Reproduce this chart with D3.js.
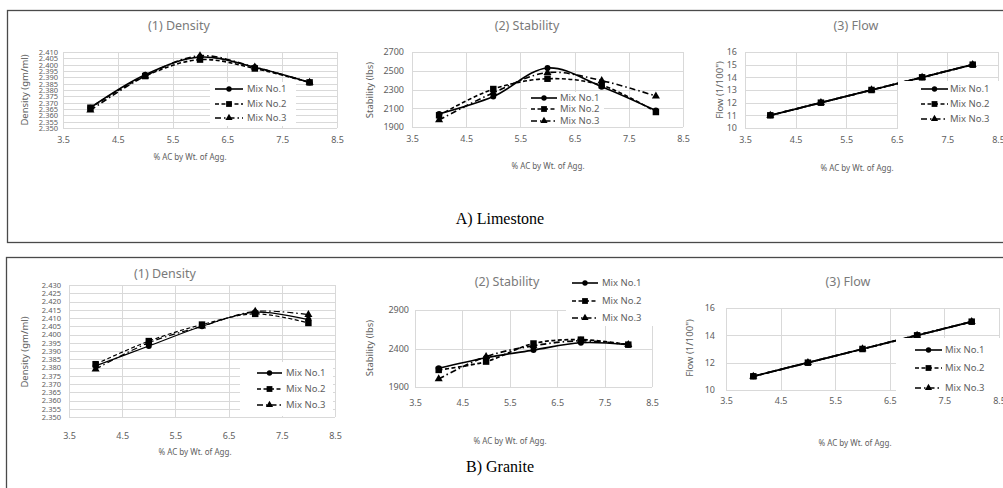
<!DOCTYPE html>
<html><head><meta charset="utf-8">
<script src="https://cdn.jsdelivr.net/npm/d3@7"></script>
<style>
html,body{margin:0;padding:0;background:#fff;}
svg{display:block;font-family:"Noto Sans","Open Sans",sans-serif;}
</style></head>
<body>
<svg id="c" width="1003" height="488"></svg>
<script>
// ---------- DATA ----------
const acContent = [4, 5, 6, 7, 8];
const xTicks = [3.5, 4.5, 5.5, 6.5, 7.5, 8.5];
const mixNames = ["Mix No.1", "Mix No.2", "Mix No.3"];

const limeDensityMix1 = [2.366, 2.392, 2.406, 2.398, 2.386];
const limeDensityMix2 = [2.366, 2.391, 2.404, 2.397, 2.386];
const limeDensityMix3 = [2.364, 2.391, 2.407, 2.398, 2.386];
const limeDensityTicks = [2.350,2.355,2.360,2.365,2.370,2.375,2.380,2.385,2.390,2.395,2.400,2.405,2.410];

const limeStabilityMix1 = [2040, 2225, 2530, 2330, 2075];
const limeStabilityMix2 = [2025, 2305, 2415, 2345, 2060];
const limeStabilityMix3 = [1975, 2265, 2480, 2395, 2230];
const limeStabilityTicks = [1900, 2100, 2300, 2500, 2700];

const limeFlowMix1 = [11, 12, 13, 14, 15];
const limeFlowMix2 = [11, 12, 13, 14, 15];
const limeFlowMix3 = [11, 12, 13, 14, 15];
const limeFlowTicks = [10, 11, 12, 13, 14, 15, 16];

const graniteDensityMix1 = [2.381, 2.393, 2.405, 2.4135, 2.409];
const graniteDensityMix2 = [2.382, 2.396, 2.406, 2.4125, 2.407];
const graniteDensityMix3 = [2.379, 2.395, 2.405, 2.414, 2.412];
const graniteDensityTicks = [2.350,2.355,2.360,2.365,2.370,2.375,2.380,2.385,2.390,2.395,2.400,2.405,2.410,2.415,2.420,2.425,2.430];

const graniteStabilityMix1 = [2144, 2280, 2380, 2475, 2450];
const graniteStabilityMix2 = [2122, 2230, 2465, 2515, 2450];
const graniteStabilityMix3 = [2005, 2295, 2435, 2500, 2450];
const graniteStabilityTicks = [1900, 2400, 2900];

const graniteFlowMix1 = [11, 12, 13, 14, 15];
const graniteFlowMix2 = [11, 12, 13, 14, 15];
const graniteFlowMix3 = [11, 12, 13, 14, 15];
const graniteFlowTicks = [10, 12, 14, 16];

// ---------- DRAW ----------
const svg = d3.select("#c");
const GRID = "#d9d9d9", TXT = "#606060", TITLE = "#7a7a7a";
const dashes = [null, "4,2.5", "6,3,1.5,3"];
const markers = [d3.symbolCircle, d3.symbolSquare, d3.symbolTriangle];

// panel frames
svg.append("rect").attr("x", 7.5).attr("y", 10.5).attr("width", 1010).attr("height", 232)
  .attr("fill", "none").attr("stroke", "#4a4a4a").attr("stroke-width", 1.3);
svg.append("rect").attr("x", 6.5).attr("y", 257.5).attr("width", 1010).attr("height", 240)
  .attr("fill", "none").attr("stroke", "#4a4a4a").attr("stroke-width", 1.3);

function drawChart(c) {
  const g = svg.append("g");
  const x = d3.scaleLinear().domain([3.5, 8.5]).range([c.px0, c.px1]);
  const y = d3.scaleLinear().domain([c.ticks[0], c.ticks[c.ticks.length - 1]]).range([c.py1, c.py0]);

  // gridlines
  g.selectAll(null).data(c.ticks).join("line")
    .attr("x1", x(3.5)).attr("x2", x(8.5))
    .attr("y1", d => Math.round(y(d)) + 0.5).attr("y2", d => Math.round(y(d)) + 0.5)
    .attr("stroke", GRID).attr("stroke-width", 1);
  g.selectAll(null).data(xTicks).join("line")
    .attr("x1", d => Math.round(x(d)) + 0.5).attr("x2", d => Math.round(x(d)) + 0.5)
    .attr("y1", y(c.ticks[0])).attr("y2", y(c.ticks[c.ticks.length - 1]))
    .attr("stroke", GRID).attr("stroke-width", 1);

  // axes (labels only)
  const ya = g.append("g").attr("transform", `translate(${c.px0},0)`)
    .call(d3.axisLeft(y).tickValues(c.ticks).tickSize(0).tickPadding(c.yPad).tickFormat(c.fmt));
  ya.select(".domain").remove();
  ya.selectAll("text").attr("fill", TXT).style("font-size", c.yFont + "px").style("font-family", "Noto Sans");
  const xa = g.append("g").attr("transform", `translate(0,${c.py1})`)
    .call(d3.axisBottom(x).tickValues(xTicks).tickSize(0).tickPadding(c.xPad).tickFormat(d3.format(".1f")));
  xa.select(".domain").remove();
  xa.selectAll("text").attr("fill", TXT).style("font-size", "9px").style("font-family", "Noto Sans");

  // series
  const line = d3.line().x(d => x(d[0])).y(d => y(d[1])).curve(d3.curveCatmullRom.alpha(0.5));
  c.series.forEach((vals, i) => {
    const pts = acContent.map((a, k) => [a, vals[k]]);
    g.append("path").datum(pts).attr("d", line)
      .attr("fill", "none").attr("stroke", "#000").attr("stroke-width", c.lw)
      .attr("stroke-dasharray", dashes[i]);
    g.selectAll(null).data(pts).join("path")
      .attr("transform", d => `translate(${x(d[0])},${y(d[1])})`)
      .attr("d", d3.symbol().type(markers[i]).size(c.ms[i]))
      .attr("fill", "#000");
  });

  // legend
  const L = c.legend;
  g.append("rect").attr("x", L.box[0]).attr("y", L.box[1])
    .attr("width", L.box[2] - L.box[0]).attr("height", L.box[3] - L.box[1]).attr("fill", "#fff");
  mixNames.forEach((name, i) => {
    const ry = L.rows[i];
    g.append("line").attr("x1", L.l0).attr("x2", L.l1).attr("y1", ry).attr("y2", ry)
      .attr("stroke", "#000").attr("stroke-width", 1.6).attr("stroke-dasharray", dashes[i]);
    g.append("path").attr("transform", `translate(${(L.l0 + L.l1) / 2},${ry})`)
      .attr("d", d3.symbol().type(markers[i]).size(c.ms[i] * 0.8)).attr("fill", "#000");
    g.append("text").attr("x", L.tx).attr("y", ry).attr("dy", "0.35em")
      .attr("fill", TXT).style("font-size", "9.5px").text(name);
  });

  // titles
  g.append("text").attr("x", c.title[0]).attr("y", c.title[1]).attr("text-anchor", "middle")
    .attr("dy", "0.35em").attr("fill", TITLE).style("font-size", "12.5px").text(c.title[2]);
  g.append("text").attr("transform", `translate(${c.ylab[0]},${c.ylab[1]}) rotate(-90)`)
    .attr("text-anchor", "middle").attr("dy", "0.35em").attr("fill", TXT)
    .style("font-size", "9.5px").text(c.ylab[2]);
  g.append("text").attr("x", c.xlab[0]).attr("y", c.xlab[1]).attr("text-anchor", "middle")
    .attr("dy", "0.35em").attr("fill", TXT).style("font-size", "8px").text("% AC by Wt. of Agg.");
}

const f3 = d3.format(".3f"), f0 = d3.format("d");

// Limestone
drawChart({ px0: 63, px1: 337, py0: 52, py1: 128, ticks: limeDensityTicks, fmt: f3, yPad: 5, yFont: 7.5, xPad: 9,
  series: [limeDensityMix1, limeDensityMix2, limeDensityMix3], lw: 1.6, ms: [28, 42, 28],
  legend: { box: [210, 82, 296, 126], rows: [89, 104, 118], l0: 215, l1: 243, tx: 247 },
  title: [179, 26, "(1) Density"], ylab: [25, 90, "Density (gm/ml)"], xlab: [190, 157] });

drawChart({ px0: 412, px1: 683, py0: 52, py1: 127, ticks: limeStabilityTicks, fmt: f0, yPad: 8, yFont: 9, xPad: 9,
  series: [limeStabilityMix1, limeStabilityMix2, limeStabilityMix3], lw: 1.6, ms: [28, 42, 28],
  legend: { box: [527, 92, 604, 127], rows: [98, 109, 121], l0: 531, l1: 557, tx: 560 },
  title: [527, 26, "(2) Stability"], ylab: [370, 90, "Stability (lbs)"], xlab: [548, 166] });

drawChart({ px0: 745, px1: 998, py0: 52, py1: 128, ticks: limeFlowTicks, fmt: f0, yPad: 8, yFont: 9, xPad: 9,
  series: [limeFlowMix1, limeFlowMix2, limeFlowMix3], lw: 1.8, ms: [28, 42, 28],
  legend: { box: [898, 81, 1003, 129], rows: [89, 104, 119], l0: 921, l1: 948, tx: 950 },
  title: [856, 26, "(3) Flow"], ylab: [720, 90, "Flow (1/100\")"], xlab: [857, 168] });

// Granite
drawChart({ px0: 69, px1: 335, py0: 285, py1: 417, ticks: graniteDensityTicks, fmt: f3, yPad: 8, yFont: 7.5, xPad: 16,
  series: [graniteDensityMix1, graniteDensityMix2, graniteDensityMix3], lw: 1.2, ms: [28, 42, 28],
  legend: { box: [240, 362, 333, 416], rows: [373, 389, 405], l0: 257, l1: 282, tx: 286 },
  title: [165, 274, "(1) Density"], ylab: [25, 352, "Density (gm/ml)"], xlab: [195, 452] });

drawChart({ px0: 415, px1: 652, py0: 310, py1: 387, ticks: graniteStabilityTicks, fmt: f0, yPad: 6, yFont: 9, xPad: 13,
  series: [graniteStabilityMix1, graniteStabilityMix2, graniteStabilityMix3], lw: 1.7, ms: [28, 42, 28],
  legend: { box: [566, 274, 665, 326], rows: [283, 301, 318], l0: 572, l1: 598, tx: 602 },
  title: [507, 282, "(2) Stability"], ylab: [370, 348, "Stability (lbs)"], xlab: [510, 441] });

drawChart({ px0: 726, px1: 999, py0: 308, py1: 390, ticks: graniteFlowTicks, fmt: f0, yPad: 11, yFont: 9, xPad: 8,
  series: [graniteFlowMix1, graniteFlowMix2, graniteFlowMix3], lw: 1.8, ms: [28, 42, 28],
  legend: { box: [896, 338, 1003, 394], rows: [350, 368, 388], l0: 915, l1: 942, tx: 945 },
  title: [848, 282, "(3) Flow"], ylab: [690, 348, "Flow (1/100\")"], xlab: [855, 443] });

// panel captions
svg.append("text").attr("x", 500).attr("y", 218).attr("text-anchor", "middle").attr("dy", "0.35em")
  .style("font-family", "Liberation Serif, serif").style("font-size", "16px").attr("fill", "#000").text("A) Limestone");
svg.append("text").attr("x", 500).attr("y", 466).attr("text-anchor", "middle").attr("dy", "0.35em")
  .style("font-family", "Liberation Serif, serif").style("font-size", "16px").attr("fill", "#000").text("B) Granite");
</script>
</body></html>
